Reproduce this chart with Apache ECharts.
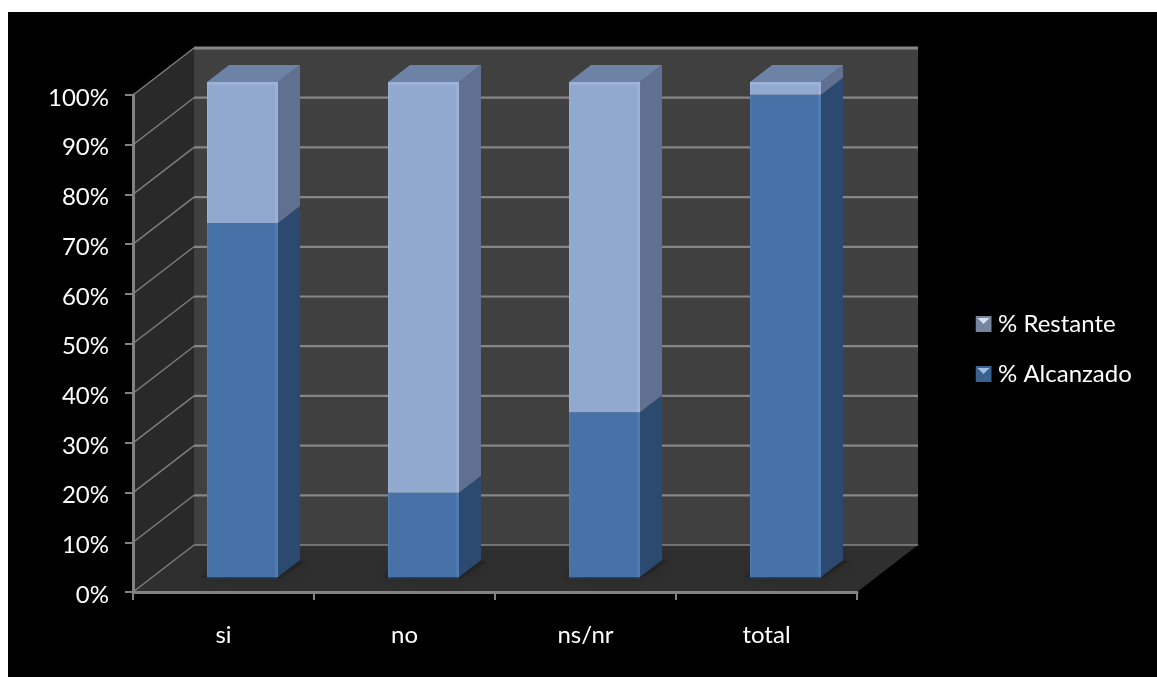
<!DOCTYPE html>
<html>
<head>
<meta charset="utf-8">
<style>
  html, body { margin: 0; padding: 0; width: 1157px; height: 677px; background: #fff; overflow: hidden; }
  #chart { position: absolute; left: 8px; top: 12px; width: 1149px; height: 665px; background: #000; }
</style>
<script src="https://cdn.jsdelivr.net/npm/echarts@6/dist/echarts.min.js"></script>
</head>
<body>
<div id="chart"></div>
<script>
const categories = ['si', 'no', 'ns/nr', 'total'];
const alcanzado = [71.5, 17, 33.3, 97.4];
const restante = [28.5, 83, 66.7, 2.6];
const ticks = [0, 10, 20, 30, 40, 50, 60, 70, 80, 90, 100];

// Pseudo-3D projection, in pixels
const WALL_DX = 61, WALL_DY = -47;
const BAR_DX = 19, BAR_DY = -15;
const BAR_SCALE = 495 / 497;
const SIDE_DX = 22, SIDE_DY = -17;
const BAR_RATIO = 71 / 181;

const pts = (list) => ({ points: list });

function renderWalls(params) {
  const c = params.coordSys;
  const l = c.x, r = c.x + c.width, t = c.y, b = c.y + c.height;
  return {
    type: 'group',
    children: [
      { type: 'polygon', shape: pts([[l, t], [l + WALL_DX, t + WALL_DY], [l + WALL_DX, b + WALL_DY], [l, b]]),
        style: { fill: '#292929' } },
      { type: 'polygon', shape: pts([[l + WALL_DX, t + WALL_DY], [r + WALL_DX, t + WALL_DY], [r + WALL_DX, b + WALL_DY], [l + WALL_DX, b + WALL_DY]]),
        style: { fill: '#404040' } },
      { type: 'polygon', shape: pts([[l, b], [l + WALL_DX, b + WALL_DY], [r + WALL_DX, b + WALL_DY], [r, b]]),
        style: { fill: '#2f2f2f' } }
    ]
  };
}

function renderGridLine(params, api) {
  const c = params.coordSys;
  const v = api.value(0);
  const y = api.coord([0, v])[1];
  const l = c.x, r = c.x + c.width;
  const isFloor = v === 0;
  return {
    type: 'group',
    children: [
      { type: 'line', shape: { x1: l, y1: y, x2: l + WALL_DX, y2: y + WALL_DY },
        style: { stroke: '#7f7f7f', lineWidth: 1.4 } },
      { type: 'line', shape: { x1: l + WALL_DX, y1: y + WALL_DY, x2: r + WALL_DX, y2: y + WALL_DY },
        style: { stroke: '#868686', lineWidth: isFloor ? 1.5 : (v === 100 ? 3 : 2.2) } }
    ]
  };
}

// Soft contact shadow on the floor, spreading left of the base and right of the side face
function renderShadow(params, api) {
  const x = api.coord([api.value(0), 0]);
  const w = api.size([1, 0])[0] * BAR_RATIO;
  const x0 = x[0] + BAR_DX - w / 2, x1 = x0 + w, y = x[1] + BAR_DY;
  return {
    type: 'polygon',
    shape: pts([[x0 - 6, y], [x1 + 2, y + 1], [x1 + SIDE_DX + 6, y + SIDE_DY + 1], [x0 + SIDE_DX, y + SIDE_DY]]),
    style: { fill: 'rgba(30,30,30,0.5)', shadowBlur: 12, shadowColor: 'rgba(24,24,24,0.8)' }
  };
}

function frontFill(edge, main) {
  return { type: 'linear', x: 0, y: 0, x2: 1, y2: 0, colorStops: [
    { offset: 0, color: edge }, { offset: 0.025, color: main },
    { offset: 0.95, color: main }, { offset: 0.97, color: edge }, { offset: 1, color: edge }
  ] };
}

// One stacked segment: front face, side face and, for the top segment, the lid
function segmentRenderer(front, edge, side, lid) {
  return function (params, api) {
    const cat = api.value(0);
    const origin = api.coord([cat, 0]);
    const a = api.coord([cat, api.value(1)]);
    const e = api.coord([cat, api.value(2)]);
    const w = api.size([1, 0])[0] * BAR_RATIO;
    const x0 = a[0] + BAR_DX - w / 2, x1 = x0 + w;
    const yb = origin[1] + BAR_DY - (origin[1] - a[1]) * BAR_SCALE;
    const yt = origin[1] + BAR_DY - (origin[1] - e[1]) * BAR_SCALE;
    const children = [
      { type: 'polygon', shape: pts([[x1, yb], [x1 + SIDE_DX, yb + SIDE_DY], [x1 + SIDE_DX, yt + SIDE_DY], [x1, yt]]),
        style: { fill: side } },
      { type: 'rect', shape: { x: x0, y: yt, width: w, height: yb - yt },
        style: { fill: frontFill(edge, front) } }
    ];
    if (lid) {
      children.push(
        { type: 'polygon', shape: pts([[x0, yt], [x0 + SIDE_DX, yt + SIDE_DY], [x1 + SIDE_DX, yt + SIDE_DY], [x1, yt]]),
          style: { fill: lid } },
        { type: 'rect', shape: { x: x0, y: yt, width: w, height: 3 }, style: { fill: edge } }
      );
    } else {
      // faint seam where the column meets the floor
      children.push({ type: 'rect', shape: { x: x0, y: yb, width: w, height: 1.5 }, style: { fill: '#2c4a70', opacity: 0.8 } });
    }
    return { type: 'group', children };
  };
}

function swatch(face, tri) {
  const svg = '<svg xmlns="http://www.w3.org/2000/svg" width="17" height="16">' +
    '<rect width="16" height="16" fill="' + face + '"/>' +
    '<path d="M2 2H14L8 8Z" fill="' + tri + '"/></svg>';
  return 'image://data:image/svg+xml;charset=utf-8,' + encodeURIComponent(svg);
}

const labelFont = 'Lato, "Noto Sans", sans-serif';
const labelSize = 24;
const axisGray = '#828282';
const base = categories.map((_, i) => [i, 0, alcanzado[i]]);
const upper = categories.map((_, i) => [i, alcanzado[i], alcanzado[i] + restante[i]]);

const chart = echarts.init(document.getElementById('chart'));
chart.setOption({
  animation: false,
  backgroundColor: '#000',
  grid: { left: 125, top: 83, width: 724, height: 497 },
  legend: {
    orient: 'vertical', left: 967, top: 300, padding: 0,
    itemWidth: 18, itemHeight: 16, itemGap: 26,
    selectedMode: false,
    textStyle: { color: '#fff', fontFamily: labelFont, fontSize: labelSize },
    data: [
      { name: '% Restante', icon: swatch('#76859f', '#d5deee') },
      { name: '% Alcanzado', icon: swatch('#3a6190', '#a0bde2') }
    ]
  },
  xAxis: {
    type: 'category', data: categories, z: 6,
    axisLine: { lineStyle: { color: axisGray, width: 3 } },
    axisTick: { show: true, length: 8, lineStyle: { color: axisGray, width: 2 } },
    axisLabel: { color: '#fff', fontFamily: labelFont, fontSize: labelSize, margin: 31 },
    splitLine: { show: false }
  },
  yAxis: {
    type: 'value', min: 0, max: 100, interval: 10, z: 6,
    axisLine: { show: true, lineStyle: { color: axisGray, width: 3 } },
    axisTick: { show: true, length: 8, lineStyle: { color: axisGray, width: 2 } },
    axisLabel: {
      color: '#fff', fontFamily: labelFont, fontSize: labelSize, margin: 24,
      formatter: '{pct|{value}%}',
      rich: { pct: { color: '#fff', fontFamily: labelFont, fontSize: labelSize, padding: [6, 0, 0, 0] } }
    },
    splitLine: { show: false }
  },
  series: [
    { type: 'custom', name: 'walls', z: 1, silent: true, data: [[0]], renderItem: renderWalls, encode: { x: -1, y: -1 } },
    { type: 'custom', name: 'gridlines', z: 2, silent: true, data: ticks.map((v) => [v]), renderItem: renderGridLine, encode: { y: 0, x: -1 } },
    { type: 'custom', name: 'shadows', z: 3, silent: true, data: categories.map((_, i) => [i]), renderItem: renderShadow, encode: { x: 0, y: -1 } },
    { type: 'custom', name: '% Alcanzado', z: 4, data: base, itemStyle: { color: '#4672a8' },
      renderItem: segmentRenderer('#4672a8', '#4f7db5', '#2c4a70', null), encode: { x: 0, y: [1, 2] } },
    { type: 'custom', name: '% Restante', z: 4, data: upper, itemStyle: { color: '#92a9cf' },
      renderItem: segmentRenderer('#92a9cf', '#9cb2d9', '#5f7090', '#6d83a6'), encode: { x: 0, y: [1, 2] } }
  ]
});
</script>
</body>
</html>
